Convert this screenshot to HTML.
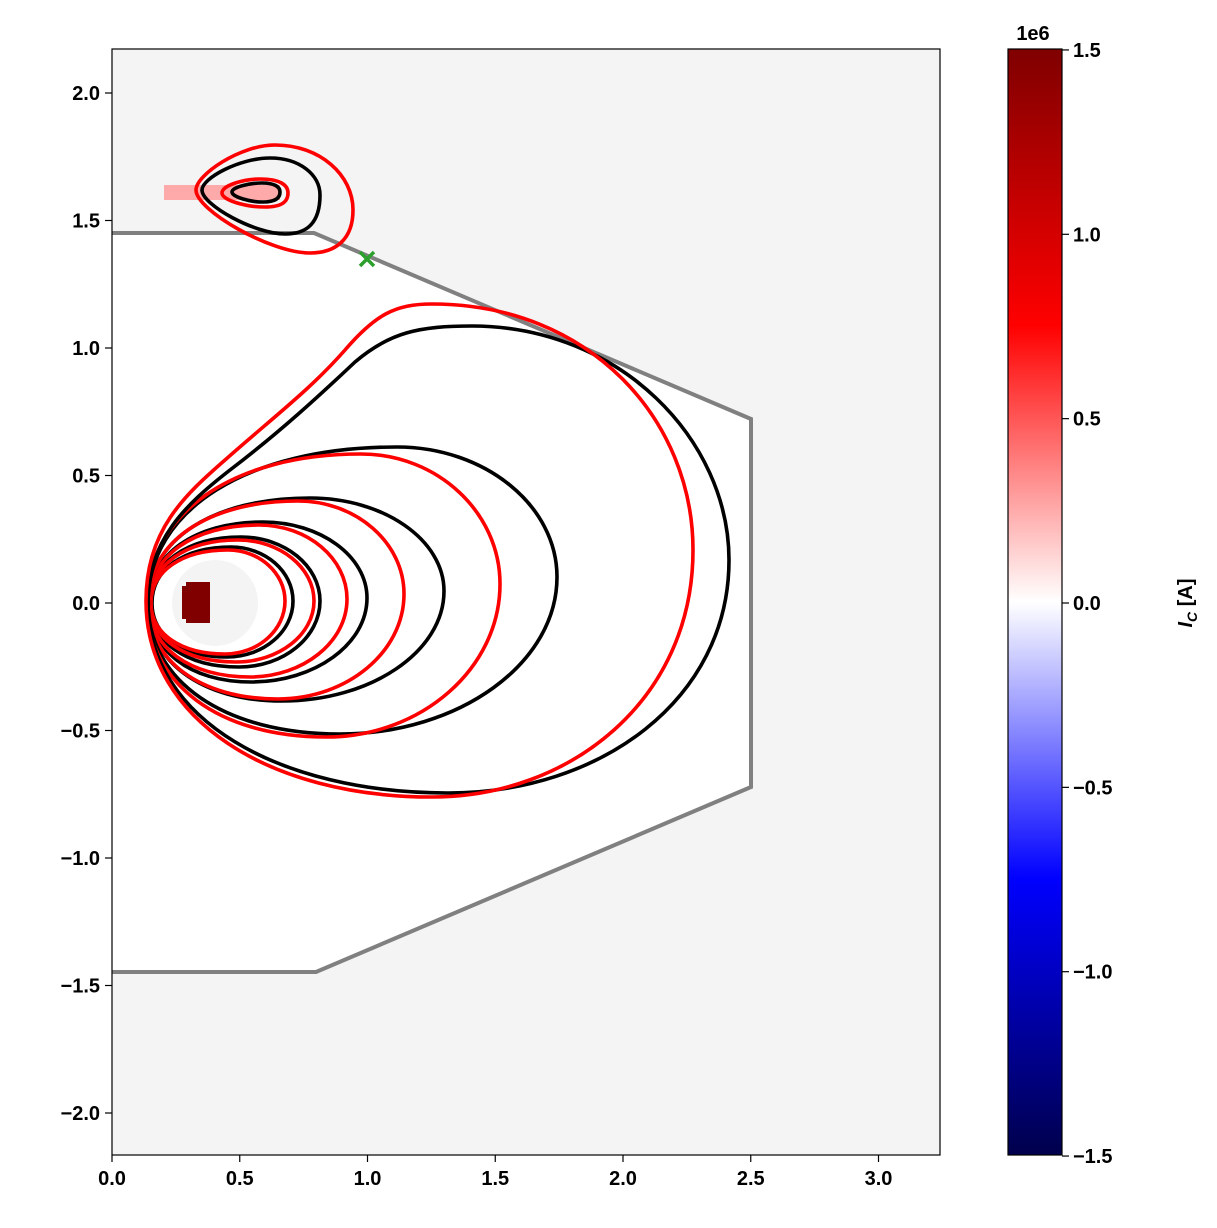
<!DOCTYPE html>
<html><head><meta charset="utf-8"><style>
body{margin:0;background:#fff;}
svg text{font-family:"Liberation Sans",sans-serif;font-weight:bold;font-size:20px;fill:#000;}
</style></head><body>
<svg id="s" width="1217" height="1223" xmlns="http://www.w3.org/2000/svg">
<defs>
<linearGradient id="cb" x1="0" y1="1" x2="0" y2="0">
<stop offset="0" stop-color="#00004c"/>
<stop offset="0.25" stop-color="#0000ff"/>
<stop offset="0.5" stop-color="#ffffff"/>
<stop offset="0.75" stop-color="#ff0000"/>
<stop offset="1" stop-color="#7f0000"/>
</linearGradient>
<clipPath id="ax"><rect x="112" y="49" width="828" height="1106"/></clipPath>
</defs>
<rect x="112" y="49" width="828" height="1106" fill="#f4f4f4"/>
<g clip-path="url(#ax)">
<polygon points="112,233 316,233 751,419 751,787 316,973 112,973" fill="#fff"/>
<circle cx="215" cy="603" r="43" fill="#f4f4f4"/>
<rect x="186" y="582" width="24" height="41" fill="#800000"/>
<rect x="182" y="586" width="6" height="33" fill="#800000"/>
<rect x="164" y="185" width="116" height="15" fill="#ffaaaa"/>
<polyline points="112,233 314,233 751,419 751,787 316,972 112,972" fill="none" stroke="#808080" stroke-width="4"/>
<g id="cont" fill="none" stroke-width="3.6"></g>
<path d="M148,603 C148,540 185,505 230,470 C280,432 320,395 355,362 C390,332 420,326 472,326 C620,326 729,440 729,560 C729,700 600,793 448,793 C280,793 148,720 148,603Z" fill="none" stroke="#000" stroke-width="3.6"/>
<path d="M146,601 C146,530 185,495 225,460 C270,420 310,390 345,350 C375,315 395,304 432,304 C590,304 693,420 693,550 C693,700 570,797 432,797 C270,797 146,720 146,601Z" fill="none" stroke="#f00" stroke-width="3.6"/>
<path d="M196,190 C196,175 240,145 275,145 C320,145 353,175 353,210 C353,240 335,253 310,253 C270,253 196,210 196,190Z" fill="none" stroke="#f00" stroke-width="3.6"/>
<path d="M202,190 C202,178 240,158 270,158 C300,158 320,175 320,195 C320,225 305,234 285,234 C255,234 202,205 202,190Z" fill="none" stroke="#000" stroke-width="3.6"/>
<path d="M222,193 C222,185 245,179 260,179 C280,179 288,185 288,193 C288,203 280,207 265,207 C245,207 222,200 222,193Z" fill="none" stroke="#f00" stroke-width="3.6"/>
<path d="M232,192 C232,187 250,183 262,183 C275,183 280,187 280,192 C280,199 274,202 263,202 C250,202 232,197 232,192Z" fill="none" stroke="#000" stroke-width="3.6"/>
<g stroke="#2ca02c" stroke-width="3.5"><line x1="360" y1="252" x2="374" y2="266"/><line x1="374" y1="252" x2="360" y2="266"/></g>
</g>
<rect x="112" y="49" width="828" height="1106" fill="none" stroke="#000" stroke-width="1.2"/>
<g id="ticks"></g>
<rect x="1008" y="49" width="54" height="1106" fill="url(#cb)" stroke="#000" stroke-width="1.2"/>
<text x="1033" y="40" text-anchor="middle">1e6</text>
<text transform="translate(1192,603) rotate(-90)" text-anchor="middle"><tspan font-style="italic">I</tspan><tspan font-style="italic" font-size="14" dy="5">C</tspan><tspan dy="-5"> [A]</tspan></text>
</svg>
<script>
var ns="http://www.w3.org/2000/svg",c=document.getElementById("cont"),t=document.getElementById("ticks");
function el(p,n,a,tx){var e=document.createElementNS(ns,n);for(var k in a)e.setAttribute(k,a[k]);if(tx)e.textContent=tx;p.appendChild(e);}
function curve(L,tx,ty,rx,ry,bx,by,col){var k=0.55,ly=603,q=0.6;
var d="M"+L+","+ly+" C"+L+","+(ly-(ly-ty)*q)+" "+(tx-(tx-L)*q)+","+ty+" "+tx+","+ty+
" C"+(tx+(rx-tx)*k)+","+ty+" "+rx+","+(ry-(ry-ty)*k)+" "+rx+","+ry+
" C"+rx+","+(ry+(by-ry)*k)+" "+(bx+(rx-bx)*k)+","+by+" "+bx+","+by+
" C"+(bx-(bx-L)*q)+","+by+" "+L+","+(ly+(by-ly)*q)+" "+L+","+ly+"Z";
el(c,"path",{d:d,stroke:col});}
curve(152,231,547,293,601,227,657,"#000");
curve(151,228,550,285,601,225,654,"#f00");
curve(150,241,537,320,601,239,667,"#000");
curve(150,238,540,314,601,236,662,"#f00");
curve(149,263,522,367,598,251,682,"#000");
curve(149,259,525,347,599,250,677,"#f00");
curve(148,310,498,444,591,282,701,"#000");
curve(148,298,501,404,594,278,699,"#f00");
curve(148,397,447,557,577,340,734,"#000");
curve(147,361,454,500,584,326,737,"#f00");
var xs=[0,0.5,1,1.5,2,2.5,3];xs.forEach(function(v){var x=112+255.5*v;el(t,"line",{x1:x,y1:1155,x2:x,y2:1162,stroke:"#000","stroke-width":1.2});el(t,"text",{x:x,y:1185,"text-anchor":"middle"},v.toFixed(1));});
var ys=[-2,-1.5,-1,-0.5,0,0.5,1,1.5,2];ys.forEach(function(v){var y=603-255*v;el(t,"line",{x1:105,y1:y,x2:112,y2:y,stroke:"#000","stroke-width":1.2});el(t,"text",{x:100,y:y+7,"text-anchor":"end"},(v<0?"\u2212":"")+Math.abs(v).toFixed(1));});
[-1.5,-1,-0.5,0,0.5,1,1.5].forEach(function(v){var y=603-368.7*v;el(t,"line",{x1:1062,y1:y,x2:1069,y2:y,stroke:"#000","stroke-width":1.2});el(t,"text",{x:1073,y:y+7},(v<0?"\u2212":"")+Math.abs(v).toFixed(1));});
</script>
</body></html>
